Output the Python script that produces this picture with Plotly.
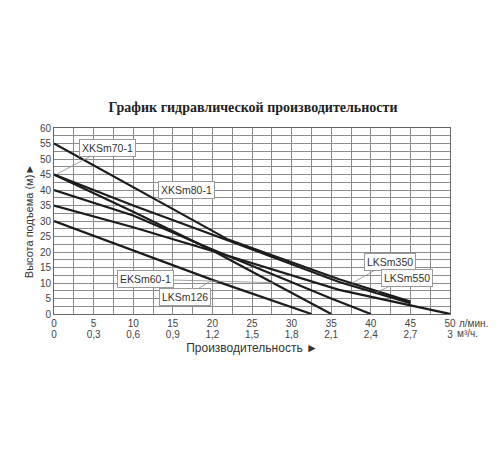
import plotly.graph_objects as go

# flow (l/min) and head (m)
xksm80_x = [0, 10, 22, 36, 45]
xksm80_y = [55, 40.8, 24, 11.2, 4]

xksm70_x = [0, 10, 22, 36, 45]
xksm70_y = [45, 35, 23.7, 10.3, 3.5]

eksm60_x = [0, 10, 20, 35]
eksm60_y = [45, 33, 20.5, 0]

lksm550_x = [0, 10, 20, 35, 40]
lksm550_y = [40, 31.8, 20.8, 5, 0]

lksm350_x = [0, 10, 20, 36, 50]
lksm350_y = [35, 28, 20.3, 7.8, 0]

lksm126_x = [0, 10, 20, 32.5]
lksm126_y = [30, 20.5, 11, 0]

series = [
    ('XKSm80-1', xksm80_x, xksm80_y),
    ('XKSm70-1', xksm70_x, xksm70_y),
    ('EKSm60-1', eksm60_x, eksm60_y),
    ('LKSm550', lksm550_x, lksm550_y),
    ('LKSm350', lksm350_x, lksm350_y),
    ('LKSm126', lksm126_x, lksm126_y),
]

lmin_ticks = [0, 5, 10, 15, 20, 25, 30, 35, 40, 45, 50]
m3h_labels = ['0', '0,3', '0,6', '0,9', '1,2', '1,5', '1,8', '2,1', '2,4', '2,7', '3']
head_ticks = [0, 5, 10, 15, 20, 25, 30, 35, 40, 45, 50, 55, 60]

# label text, box centre (x, y), arrow tip (x, y)
labels = [
    ('XKSm70-1', 6.7, 53.7, 0.4, 45.2),
    ('XKSm80-1', 16.7, 39.9, 13.1, 36.6),
    ('EKSm60-1', 11.5, 11.2, 27.7, 10.1),
    ('LKSm126', 16.5, 5.5, 20.0, 11.0),
    ('LKSm350', 42.4, 16.9, 37.6, 9.9),
    ('LKSm550', 44.6, 11.7, 40.7, 6.9),
]

font = 'Liberation Sans, Arial, sans-serif'

data = [go.Scatter(x=x, y=y, mode='lines', name=name,
                   line=dict(color='#1c1c1c', width=2.2))
        for name, x, y in series]
# empty trace so the m3/h axis is drawn
data.append(go.Scatter(x=[0, 50], y=[0, 0], xaxis='x2', mode='lines',
                       line=dict(width=0), hoverinfo='skip'))

ann = [dict(text=t, x=hx, y=hy, ax=bx, ay=by, xref='x', yref='y',
            axref='x', ayref='y', showarrow=True, arrowhead=0,
            arrowwidth=0.8, arrowcolor='#8a8a8a', standoff=0,
            bgcolor='white', bordercolor='#9a9a9a', borderwidth=1,
            borderpad=2, font=dict(family=font, size=10.5, color='#333'))
       for t, bx, by, hx, hy in labels]

ann.append(dict(text='л/мин.', x=50, y=0, xref='x', yref='y',
                xanchor='left', yanchor='top', xshift=7, yshift=-2,
                showarrow=False, font=dict(family=font, size=10, color='#444')))
ann.append(dict(text='м³/ч.', x=50, y=0, xref='x', yref='y',
                xanchor='left', yanchor='top', xshift=5, yshift=-12,
                showarrow=False, font=dict(family=font, size=10, color='#444')))

tick_font = dict(family=font, size=10, color='#444')
grid = dict(showgrid=True, gridcolor='#8c8c8c', gridwidth=1,
            minor=dict(dtick=2.5, showgrid=True, gridcolor='#8c8c8c', gridwidth=1),
            showline=True, linecolor='#666', mirror=True, zeroline=False,
            ticks='', automargin=False, tickfont=tick_font)

layout = go.Layout(
    width=500, height=450,
    paper_bgcolor='white', plot_bgcolor='white',
    margin=dict(l=46, r=58, t=120, b=144),
    showlegend=False,
    title=dict(text='<b>График гидравлической производительности</b>',
               x=0.49, xanchor='center', y=0.78, yanchor='middle',
               font=dict(family='Liberation Serif, Times New Roman, serif',
                         size=14, color='#222')),
    xaxis=dict(range=[0, 50], tickvals=lmin_ticks,
               ticktext=[str(v) for v in lmin_ticks], ticklabelstandoff=0,
               title=dict(text='Производительность ►', standoff=15,
                          font=dict(family=font, size=12, color='#333')),
               **grid),
    xaxis2=dict(range=[0, 50], overlaying='x', side='bottom', anchor='y',
                tickvals=lmin_ticks, ticktext=m3h_labels, ticks='',
                ticklabelstandoff=13, showgrid=False, showline=False,
                zeroline=False, automargin=False, tickfont=tick_font),
    yaxis=dict(range=[0, 60], tickvals=head_ticks,
               title=dict(text='Высота подъема (м)►', standoff=4,
                          font=dict(family=font, size=11, color='#333')),
               **grid),
    annotations=ann,
)

fig = go.Figure(data=data, layout=layout)
fig.write_html('out.html')
